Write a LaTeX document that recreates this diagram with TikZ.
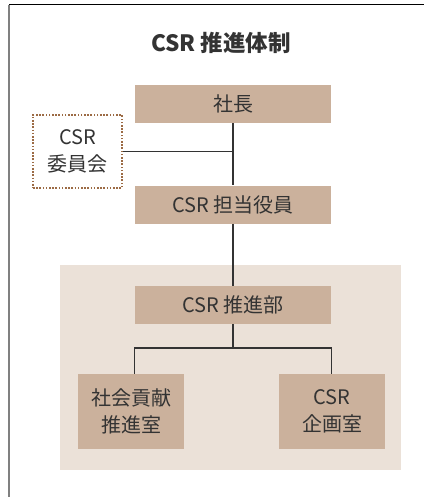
\documentclass[tikz,border=0pt]{standalone}
\usepackage{fontspec}
\newfontfamily\jpfont{Noto Sans CJK JP}
\usetikzlibrary{positioning}
\definecolor{boxtan}{HTML}{CBB19C}
\definecolor{areabg}{HTML}{EBE1D8}
\definecolor{dotbrown}{HTML}{9C6B45}
\definecolor{ink}{HTML}{333333}
\begin{document}
\begin{tikzpicture}[x=1pt, y=-1pt, thick, ink,
        main/.style = {fill=boxtan, minimum width=196pt, minimum height=38pt, inner sep=0pt,
                       font=\jpfont\fontsize{20}{27}\selectfont, text=ink},
        sub/.style = {main, minimum width=106pt, minimum height=75pt, align=center},
        comm/.style = {draw=dotbrown, line width=1.8pt, dash pattern=on 1.6pt off 1.6pt,
                       minimum width=89pt, minimum height=73pt, inner sep=0pt, align=center,
                       font=\jpfont\fontsize{20}{27}\selectfont, text=ink},
        link/.style = {draw=ink, line width=1.2pt}]
    \useasboundingbox (0,0) rectangle (424,497);
    % frame
    \draw[black, line width=1pt] (9,5) -- (424,5);
    \draw[gray, line width=1.5pt] (9,5) -- (9,497);
    % department area
    \fill[areabg] (60,265) rectangle (401,470);
    \node[font=\jpfont\bfseries\fontsize{22.5}{26}\selectfont] (title) at (221,43) {CSR 推進体制};
    \node[main] (1) at (233,104) {社長};
    \node[main] (2) at (233,204.5) {CSR 担当役員};
    \node[comm] (c) at (77.5,151.5) {CSR\\委員会};
    \node[main] (3) at (233,305) {CSR 推進部};
    \node[sub] (4) at (131,411.5) {社会貢献\\推進室};
    \node[sub] (5) at (332,411.5) {CSR\\企画室};
    \coordinate (f) at (233,348);
    \draw[link] (1) -- (2);
    \draw[link] (2) -- (3);
    \draw[link] (c.east) -- (c.east -| 1.south);
    \draw[link] (3) -- (f);
    \draw[link] (4.north -| 3.west) |- (f) -| (5.north -| 3.east);
\end{tikzpicture}
\end{document}
